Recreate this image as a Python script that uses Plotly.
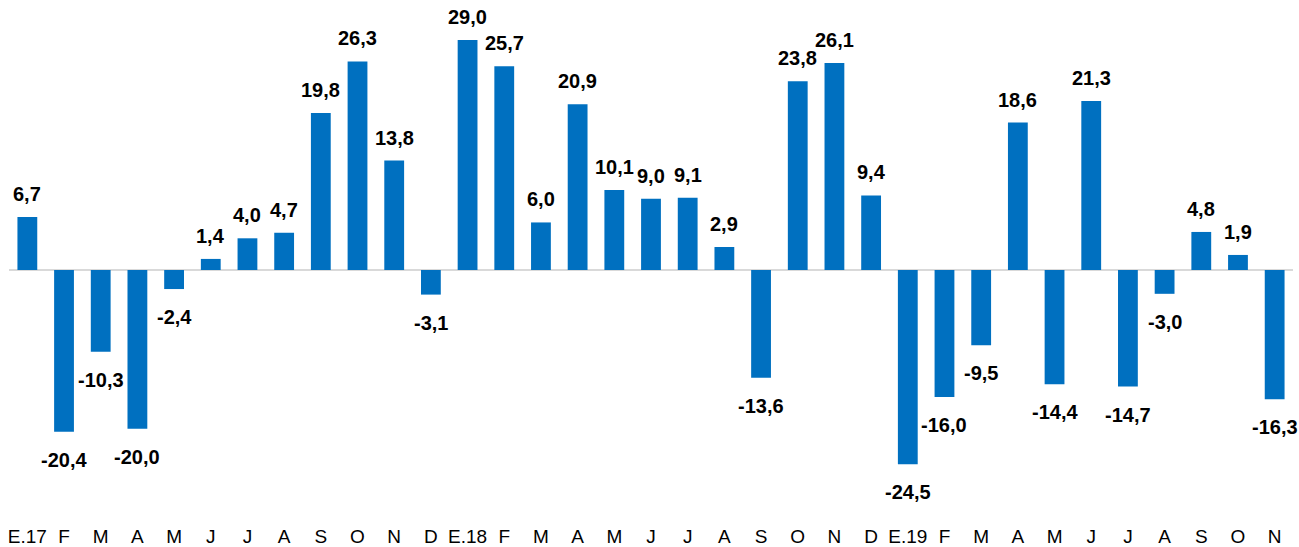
import plotly.graph_objects as go

months = ["E.17", "F", "M", "A", "M", "J", "J", "A", "S", "O", "N", "D",
          "E.18", "F", "M", "A", "M", "J", "J", "A", "S", "O", "N", "D",
          "E.19", "F", "M", "A", "M", "J", "J", "A", "S", "O", "N"]
values = [6.7, -20.4, -10.3, -20.0, -2.4, 1.4, 4.0, 4.7, 19.8, 26.3, 13.8, -3.1,
          29.0, 25.7, 6.0, 20.9, 10.1, 9.0, 9.1, 2.9, -13.6, 23.8, 26.1, 9.4,
          -24.5, -16.0, -9.5, 18.6, -14.4, 21.3, -14.7, -3.0, 4.8, 1.9, -16.3]

xpos = list(range(len(months)))
labels = [f"{v:.1f}".replace(".", ",") for v in values]

fig = go.Figure()
fig.add_trace(go.Bar(x=xpos, y=values, width=0.54, marker_color="#0070C0",
                     marker_line_width=0, hoverinfo="skip"))

for x, v, t in zip(xpos, values, labels):
    fig.add_annotation(x=x, y=v, text=f"<b>{t}</b>", showarrow=False,
                       yanchor="bottom" if v >= 0 else "top",
                       yshift=10 if v >= 0 else -15,
                       font=dict(family="Liberation Sans, Arial", size=20, color="black"))

fig.update_layout(
    width=1299, height=547,
    margin=dict(l=9, r=6, t=8, b=24),
    plot_bgcolor="white", paper_bgcolor="white",
    showlegend=False,
    xaxis=dict(tickmode="array", tickvals=xpos, ticktext=months, automargin=False,
               range=[-0.5, len(months) - 0.5], showgrid=False, zeroline=False,
               showline=False, ticks="", ticklabeloverflow="allow",
               tickfont=dict(family="Liberation Sans, Arial", size=19, color="black")),
    yaxis=dict(range=[-31.9, 33.04], showgrid=False, zeroline=True, automargin=False,
               zerolinecolor="#D9D9D9", zerolinewidth=2, showticklabels=False,
               showline=False),
)

fig.write_html("out.html", config={"displayModeBar": False},
               post_script="document.body.style.margin='0';document.body.style.overflow='hidden';")
